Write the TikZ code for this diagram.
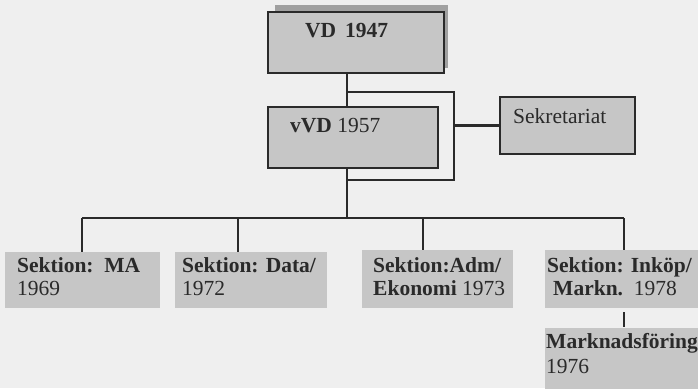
\documentclass[tikz,border=0pt]{standalone}
\usepackage{fontspec}
\setmainfont{Liberation Serif}
\definecolor{bg}{HTML}{EFEFEF}
\definecolor{boxfill}{HTML}{C6C6C6}
\definecolor{shadowcol}{HTML}{A0A0A0}
\definecolor{ink}{HTML}{2A2A2A}
\begin{document}
\begin{tikzpicture}[x=1pt,y=-1pt,
  frame/.style={draw=ink, line width=2.1pt, fill=boxfill, inner sep=0pt, outer sep=0pt, anchor=north west},
  plainbox/.style={fill=boxfill, inner sep=0pt, outer sep=0pt, anchor=north west},
  txt/.style={anchor=base west, inner sep=0pt, text=ink, font=\fontsize{21.5}{23}\selectfont},
  conn/.style={draw=ink, line width=2.1pt}]
\useasboundingbox (0,0) rectangle (698,388);
\clip (0,0) rectangle (698,388);
\fill[bg] (0,0) rectangle (698,388);
% shadow of top box
\fill[shadowcol] (275,5) rectangle (448,68);
% boxes
\node[frame, minimum width=176pt, minimum height=61pt] (vd) at (268,12) {};
\node[frame, minimum width=170pt, minimum height=61pt] (vvd) at (268,107) {};
\node[frame, minimum width=135pt, minimum height=57pt] (sek) at (500,97) {};
\node[plainbox, minimum width=155pt, minimum height=56pt] (s1) at (5,252) {};
\node[plainbox, minimum width=152pt, minimum height=56pt] (s2) at (175,252) {};
\node[plainbox, minimum width=151pt, minimum height=58pt] (s3) at (362,250) {};
\node[plainbox, minimum width=160pt, minimum height=58pt] (s4) at (545,250) {};
\node[plainbox, minimum width=160pt, minimum height=65pt] (s5) at (545,328) {};
% texts
\node[txt] (tvd) at (305,37) {\textbf{VD} \,\textbf{1947}};
\node[txt] (tvvd) at (290,132) {\textbf{vVD} 1957};
\node[txt] (tsek) at (513,123) {Sekretariat};
\node[txt] (t1a) at (17,272) {\textbf{Sektion:\ \ MA}};
\node[txt] (t1b) at (17,295) {1969};
\node[txt] (t2a) at (182,272) {\textbf{Sektion: Data/}};
\node[txt] (t2b) at (182,295) {1972};
\node[txt] (t3a) at (373,272) {\textbf{Sektion:Adm/}};
\node[txt] (t3b) at (373,295) {\textbf{Ekonomi} 1973};
\node[txt] (t4a) at (547,272) {\textbf{Sektion: Inköp/}};
\node[txt] (t4b) at (553,295) {\textbf{Markn.}\ \ 1978};
\node[txt] (t5a) at (546,348) {\textbf{Marknadsföring}};
\node[txt] (t5b) at (546,373) {1976};
% junction coordinates
\coordinate (trunk) at (347,0);
\coordinate (ja) at (347,92);
\coordinate (jb) at (454,92);
\coordinate (jc) at (454,180);
\coordinate (jd) at (347,180);
\coordinate (bus) at (0,218);
\coordinate (d1) at (82,218);
\coordinate (d2) at (238,218);
\coordinate (d3) at (423,218);
\coordinate (d4) at (624,218);
% connectors
\draw[conn] (vd.south -| trunk) -- (vvd.north -| trunk);
\draw[conn] (ja) -- (jb) -- (jc) -- (jd);
\draw[conn] (jb |- sek.west) -- (sek.west);
\draw[conn] (vvd.south -| trunk) -- (trunk |- bus);
\draw[conn] (d1) -- (d4);
\draw[conn] (d1) -- (d1 |- s1.north);
\draw[conn] (d2) -- (d2 |- s2.north);
\draw[conn] (d3) -- (d3 |- s3.north);
\draw[conn] (d4) -- (d4 |- s4.north);
\draw[conn, shorten <=4pt, shorten >=1pt] (s4.south -| d4) -- (s5.north -| d4);
\end{tikzpicture}
\end{document}
